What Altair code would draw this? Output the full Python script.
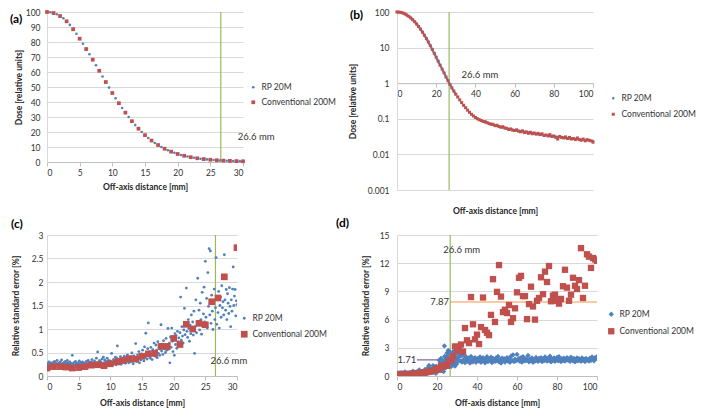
import altair as alt
import pandas as pd

RP = "RP 20M"
CONV = "Conventional 200M"
BLUE = "#4f81bd"
RED = "#c0504d"
GREEN = "#9bbb59"
ORANGE = "#f79646"
PURPLE = "#8064a2"
FONT = "Lato"
TXT = "#333333"
GRID = "#d9d9d9"
AXC = "#bfbfbf"

# ---------------- data ----------------
marker_mm = 26.6
mean_conv = 7.87
mean_rp = 1.71

# Dose, Conventional 200M, 0..100 mm every 1 mm
dose_conv = [
    100, 99.3, 97.3, 93.8, 88.5, 82.2, 75.3, 68.2, 60.8, 53.3,
    46.0, 39.2, 32.9, 27.2, 22.2, 17.9, 14.3, 11.3, 8.85, 6.9,
    5.35, 4.15, 3.2, 2.5, 1.95, 1.5, 1.18, 0.93, 0.74, 0.6,
    0.49, 0.41, 0.34, 0.285, 0.24, 0.205, 0.175, 0.152, 0.134, 0.12,
    0.109, 0.1, 0.094, 0.090, 0.084, 0.083, 0.078, 0.073, 0.071, 0.070,
    0.064, 0.066, 0.061, 0.058, 0.060, 0.055, 0.054, 0.050, 0.052, 0.048,
    0.047, 0.049, 0.045, 0.043, 0.046, 0.041, 0.043, 0.039, 0.042, 0.038,
    0.040, 0.037, 0.039, 0.036, 0.038, 0.034, 0.035, 0.033, 0.036, 0.032,
    0.033, 0.030, 0.027, 0.032, 0.030, 0.029, 0.031, 0.028, 0.030, 0.027,
    0.028, 0.026, 0.029, 0.026, 0.025, 0.027, 0.024, 0.026, 0.025, 0.024,
    0.022,
]
# Dose, RP 20M, 0..30 mm every 0.5 mm
dose_rp_fine = [
    100, 99.8, 99.3, 98.5, 97.3, 95.8, 93.8, 91.4, 88.6, 85.5,
    82.2, 78.8, 75.3, 71.8, 68.2, 64.5, 60.8, 57.0, 53.3, 49.6,
    46.0, 42.5, 39.2, 36.0, 32.9, 30.0, 27.2, 24.6, 22.2, 20.0,
    17.9, 16.0, 14.3, 12.7, 11.3, 10.0, 8.85, 7.8, 6.9, 6.1,
    5.35, 4.7, 4.15, 3.65, 3.2, 2.83, 2.5, 2.2, 1.95, 1.72,
    1.5, 1.33, 1.18, 1.04, 0.93, 0.83, 0.74, 0.66, 0.6, 0.54,
    0.49,
]
# Dose, RP 20M, 31..100 mm every 1 mm
dose_rp_tail = [
    0.41, 0.34, 0.285, 0.24, 0.205, 0.176, 0.153, 0.135, 0.121, 0.11,
    0.101, 0.094, 0.088, 0.083, 0.079, 0.076, 0.073, 0.070, 0.068, 0.065,
    0.063, 0.061, 0.059, 0.057, 0.055, 0.054, 0.052, 0.051, 0.049, 0.048,
    0.047, 0.046, 0.045, 0.044, 0.043, 0.042, 0.041, 0.040, 0.040, 0.039,
    0.038, 0.037, 0.037, 0.036, 0.035, 0.035, 0.034, 0.033, 0.033, 0.032,
    0.032, 0.031, 0.031, 0.030, 0.030, 0.029, 0.029, 0.028, 0.028, 0.028,
    0.027, 0.027, 0.026, 0.026, 0.026, 0.025, 0.025, 0.025, 0.024, 0.024,
]

# Relative standard error, Conventional 200M, 0..100 mm every 1 mm
rse_conv = [
    0.17, 0.2, 0.2, 0.19, 0.17, 0.18, 0.2, 0.23, 0.24, 0.22,
    0.26, 0.3, 0.33, 0.37, 0.36, 0.42, 0.47, 0.48, 0.63, 0.63,
    0.8, 0.67, 1.1, 1.0, 1.12, 1.09, 1.58, 1.66, 2.11, 3.15,
    2.73, 2.8, 3.35, 2.6, 5.1, 3.8, 3.5, 8.4, 5.5, 3.9,
    4.4, 3.4, 5.2, 8.35, 4.9, 4.6, 4.35, 6.5, 10.3, 5.75,
    8.95, 11.8, 8.45, 6.8, 7.05, 6.7, 7.55, 5.75, 6.15, 7.2,
    8.9, 10.45, 10.65, 8.5, 8.5, 6.05, 7.65, 9.5, 7.4, 6.0,
    8.0, 8.3, 10.5, 8.7, 11.1, 10.0, 11.7, 7.95, 8.55, 8.65,
    8.0, 7.7, 8.2, 9.55, 11.3, 9.4, 8.0, 8.65, 10.45, 9.6,
    9.25, 10.2, 13.6, 8.3, 9.6, 12.95, 12.7, 11.5, 12.55, 12.4,
    12.25,
]
# Relative standard error, RP 20M, 0..30 mm every 0.1 mm
rse_rp_fine = [
    0.24, 0.27, 0.21, 0.30, 0.25, 0.19, 0.28, 0.23, 0.26, 0.22,
    0.29, 0.24, 0.31, 0.20, 0.27, 0.25, 0.33, 0.22, 0.26, 0.28,
    0.21, 0.30, 0.25, 0.34, 0.23, 0.27, 0.19, 0.29, 0.24, 0.31,
    0.26, 0.22, 0.33, 0.28, 0.20, 0.25, 0.30, 0.24, 0.27, 0.21,
    0.44, 0.26, 0.23, 0.29, 0.20, 0.31, 0.25, 0.22, 0.28, 0.24,
    0.27, 0.32, 0.21, 0.25, 0.29, 0.23, 0.30, 0.19, 0.26, 0.28,
    0.24, 0.22, 0.31, 0.27, 0.25, 0.33, 0.21, 0.29, 0.26, 0.23,
    0.30, 0.35, 0.24, 0.28, 0.22, 0.32, 0.27, 0.25, 0.38, 0.23,
    0.51, 0.29, 0.26, 0.33, 0.24, 0.30, 0.27, 0.36, 0.22, 0.40,
    0.28, 0.34, 0.25, 0.31, 0.27, 0.38, 0.23, 0.33, 0.29, 0.26,
    0.32, 0.27, 0.48, 0.30, 0.25, 0.35, 0.29, 0.33, 0.40, 0.24,
    0.38, 0.64, 0.30, 0.27, 0.36, 0.33, 0.41, 0.25, 0.34, 0.31,
    0.37, 0.29, 0.42, 0.33, 0.27, 0.39, 0.31, 0.45, 0.35, 0.28,
    0.34, 0.40, 0.30, 0.36, 0.49, 0.32, 0.26, 0.43, 0.37, 0.33,
    0.69, 0.39, 0.31, 0.45, 0.36, 0.52, 0.28, 0.41, 0.34, 0.47,
    0.38, 0.55, 0.44, 0.32, 0.62, 0.40, 0.91, 0.47, 0.36, 0.58,
    1.13, 0.43, 0.52, 0.38, 0.61, 0.46, 0.35, 0.56, 0.49, 0.70,
    0.50, 0.42, 0.66, 0.55, 0.39, 0.73, 0.48, 0.60, 0.44, 0.57,
    1.09, 0.53, 0.68, 0.46, 0.75, 0.58, 0.62, 0.50, 0.80, 0.55,
    0.65, 1.01, 0.57, 0.70, 0.28, 0.83, 0.61, 1.02, 0.74, 0.52,
    0.78, 0.44, 0.90, 0.67, 0.86, 0.59, 0.95, 0.73, 0.81, 0.64,
    0.92, 1.68, 0.76, 1.05, 0.85, 0.70, 0.98, 1.44, 0.88, 1.12,
    1.87, 0.95, 0.82, 1.20, 1.01, 0.74, 1.08, 0.90, 1.30, 0.99,
    1.15, 0.87, 1.38, 0.48, 1.05, 1.62, 0.92, 3.20, 2.08, 1.10,
    1.40, 0.98, 1.55, 1.20, 0.89, 1.78, 1.05, 1.32, 1.89, 1.15,
    2.44, 1.25, 1.65, 1.02, 2.20, 1.48, 2.71, 1.30, 2.66, 1.12,
    1.72, 1.38, 0.99, 1.55, 1.85, 1.20, 1.45, 2.52, 1.10, 1.62,
    1.35, 1.80, 1.02, 1.50, 1.68, 1.25, 1.92, 1.45, 1.58, 1.30,
    2.58, 1.62, 1.40, 1.84, 1.20, 1.75, 1.55, 1.33, 1.88, 1.48,
    1.05, 1.62, 1.38, 1.85, 2.32, 1.50, 1.70, 1.84, 1.28, 1.60,
    1.52,
]
# Relative standard error, RP 20M, 30.5..100 mm every 0.5 mm
rse_rp_tail = [
    1.95, 2.30, 1.62, 2.12, 1.48, 2.25, 1.80, 1.42, 2.05, 1.70,
    1.55, 1.92, 1.38, 2.08, 1.66, 1.50, 1.85, 1.95, 1.45, 1.72,
    1.88, 1.58, 2.02, 1.46, 1.76, 1.95, 1.62, 1.40, 1.82, 2.05,
    1.52, 1.78, 1.66, 2.00, 1.42, 1.86, 1.70, 1.55, 1.92, 1.64,
    2.08, 1.50, 1.75, 1.38, 1.90, 1.62, 1.84, 1.48, 1.72, 1.96,
    1.58, 1.80, 1.45, 2.10, 1.66, 2.25, 1.52, 1.78, 1.62, 2.30,
    1.70, 1.88, 1.55, 1.95, 1.48, 2.05, 1.72, 1.60, 1.85, 1.66,
    2.18, 1.50, 1.82, 1.64, 1.92, 1.45, 1.76, 1.58, 1.98, 1.70,
    1.55, 1.86, 1.68, 1.95, 1.52, 1.78, 1.62, 2.02, 1.74, 1.58,
    1.88, 1.66, 2.10, 1.50, 1.80, 1.64, 1.92, 1.56, 1.76, 1.98,
    1.62, 2.06, 1.70, 1.52, 1.84, 1.66, 1.90, 1.58, 1.78, 1.95,
    1.68, 1.82, 1.55, 2.00, 1.72, 1.62, 1.88, 1.50, 1.76, 1.92,
    1.60, 1.84, 1.70, 1.56, 1.92, 1.66, 1.78, 1.52, 1.86, 1.68,
    1.74, 1.58, 1.90, 1.66, 2.02, 1.80, 1.62, 1.95, 1.84, 2.05,
]

conv_x = list(range(len(dose_conv)))
dose_rp_x = [i * 0.5 for i in range(len(dose_rp_fine))] + list(range(31, 31 + len(dose_rp_tail)))
rse_rp_x = [round(i * 0.1, 1) for i in range(len(rse_rp_fine))] + [30.5 + 0.5 * i for i in range(len(rse_rp_tail))]
dose_rp = dose_rp_fine + dose_rp_tail
rse_rp = rse_rp_fine + rse_rp_tail


def series_df(bx, by, rx, ry):
    return pd.DataFrame({
        "x": list(bx) + list(rx),
        "y": list(by) + list(ry),
        "series": [RP] * len(bx) + [CONV] * len(rx),
    })


df_a = series_df(dose_rp_x[:len(dose_rp_fine)], dose_rp_fine, conv_x[:31], dose_conv[:31])
df_b = series_df(dose_rp_x, dose_rp, conv_x, dose_conv)
df_c = series_df(rse_rp_x[:len(rse_rp_fine)], rse_rp_fine, conv_x[:31], rse_conv[:31])
df_d = series_df(rse_rp_x, rse_rp, conv_x, rse_conv)

LABEL_EXPR = "toString(datum.value)"


def make_panel(df, letter, letter_dx, letter_dy, ytitle, ytitle_x, ylabpad,
               xdom, xvals, ydom, yvals, w, h, shapes, sizes, leg_x, leg_y, leg_pad,
               notes, ylog=False, hlines=None, clip=False, x_offset=0, xtitle_y=24):
    xaxis_kw = dict(values=xvals, grid=False, domain=True, domainColor=AXC, ticks=True,
                    tickColor=AXC, tickSize=4, labelPadding=2, labelExpr=LABEL_EXPR,
                    title="Off-axis distance [mm]", titleX=w / 2, titleY=xtitle_y,
                    titleBaseline="middle", titleAlign="center")
    if x_offset:
        xaxis_kw["offset"] = x_offset
    x = alt.X("x:Q", scale=alt.Scale(domain=xdom, nice=False, zero=False),
              axis=alt.Axis(**xaxis_kw))
    if ylog:
        yscale = alt.Scale(type="log", domain=ydom, nice=False)
    else:
        yscale = alt.Scale(domain=ydom, nice=False, zero=False)
    y = alt.Y("y:Q", scale=yscale,
              axis=alt.Axis(values=yvals, grid=True, gridColor=GRID, domain=True,
                            domainColor=GRID, ticks=False, labelPadding=ylabpad,
                            labelExpr=LABEL_EXPR,
                            title=ytitle, titleX=ytitle_x, titleY=h / 2, titleAngle=270,
                            titleBaseline="middle", titleAlign="center"))
    leg = alt.Legend(orient="none", legendX=leg_x, legendY=leg_y, title=None,
                     labelFont=FONT, labelFontSize=8.5, labelColor=TXT, rowPadding=leg_pad,
                     labelOffset=4, symbolStrokeWidth=0, padding=0)
    layers = [
        alt.Chart(pd.DataFrame({"x": [marker_mm]})).mark_rule(color=GREEN, strokeWidth=1.2)
        .encode(x=x)
    ]
    for (hx, hx2, hy, hc) in (hlines or []):
        layers.append(
            alt.Chart(pd.DataFrame({"x": [hx], "x2": [hx2], "y": [hy]}))
            .mark_rule(color=hc, strokeWidth=1.2)
            .encode(x=x, x2="x2:Q", y=y)
        )
    layers.append(
        alt.Chart(df).mark_point(filled=True, opacity=1, strokeWidth=0, clip=clip).encode(
            x=x, y=y,
            color=alt.Color("series:N", scale=alt.Scale(domain=[RP, CONV], range=[BLUE, RED]), legend=leg),
            shape=alt.Shape("series:N", scale=alt.Scale(domain=[RP, CONV], range=shapes), legend=leg),
            size=alt.Size("series:N", scale=alt.Scale(domain=[RP, CONV], range=sizes), legend=leg),
        )
    )
    for (tx, ty, tt, align) in notes:
        layers.append(
            alt.Chart(pd.DataFrame({"x": [tx], "y": [ty], "t": [tt]}))
            .mark_text(align=align, baseline="middle", font=FONT, fontSize=9.5, color=TXT)
            .encode(x=x, y=y, text="t:N")
        )
    return alt.layer(*layers).properties(
        width=w, height=h,
        title=alt.TitleParams(letter, anchor="start", frame="group", orient="top", offset=0,
                              baseline="middle", dx=letter_dx, dy=letter_dy, font=FONT,
                              fontSize=12, fontWeight="bold", color="#000000"),
    )


WA, HA = 196, 150
WB, HB = 196, 178
WC, HC = 190, 141
WD, HD = 200, 141

pa = make_panel(df_a, "(a)", -37, 23, "Dose [relative units]", -29, 7,
                [0, 30], [0, 5, 10, 15, 20, 25, 30], [0, 100], list(range(0, 101, 10)),
                WA, HA, ["circle", "square"], [7, 14], 202, 71, 6,
                [(29.2, 16.5, "26.6 mm", "left")], xtitle_y=24)
pb = make_panel(df_b, "(b)", -47, 19, "Dose [relative units]", -45, 8,
                [0, 100], [0, 20, 40, 60, 80, 100], [0.001, 100], [0.001, 0.01, 0.1, 1, 10, 100],
                WB, HB, ["circle", "square"], [6, 9], 212, 82, 7,
                [(32.9, 1.75, "26.6 mm", "left")], ylog=True,
                x_offset=-0.6 * HB, xtitle_y=0.6 * HB + 20)
pc = make_panel(df_c, "(c)", -36, 5, "Relative standard error [%]", -32, 4,
                [0, 30], [0, 5, 10, 15, 20, 25, 30], [0, 3], [0, 0.5, 1, 1.5, 2, 2.5, 3],
                WC, HC, ["circle", "square"], [8, 45], 193, 79, 7,
                [(25.8, 0.31, "26.6 mm", "left")], clip=True, xtitle_y=26)
pd_ = make_panel(df_d, "(d)", -61, 4, "Relative standard error [%]", -32, 8,
                 [0, 100], [0, 20, 40, 60, 80, 100], [0, 15], [0, 3, 6, 9, 12, 15],
                 WD, HD, ["diamond", "square"], [28, 40], 210, 75, 8,
                 [(23.1, 13.4, "26.6 mm", "left"),
                  (26.0, mean_conv, "7.87", "right"),
                  (9.6, mean_rp, "1.71", "right")],
                 hlines=[(10, 100, mean_rp, PURPLE), (marker_mm, 100, mean_conv, ORANGE)],
                 clip=True, xtitle_y=26)

ind = dict(color="independent", shape="independent", size="independent")
chart = (
    alt.concat(pa, pb, pc, pd_, columns=2, spacing={"row": 45, "column": 154}, bounds="flush")
    .resolve_scale(**ind).resolve_legend(**ind)
    .properties(padding={"left": 2, "top": 0, "right": 0, "bottom": 2}, background="white")
    .configure_view(stroke=None)
    .configure_axis(labelFont=FONT, labelFontSize=8.5, labelColor=TXT,
                    titleFont=FONT, titleFontSize=8.5, titleFontWeight="bold", titleColor="#262626")
)

chart.save("out.html", embed_options={"renderer": "svg", "actions": False})
